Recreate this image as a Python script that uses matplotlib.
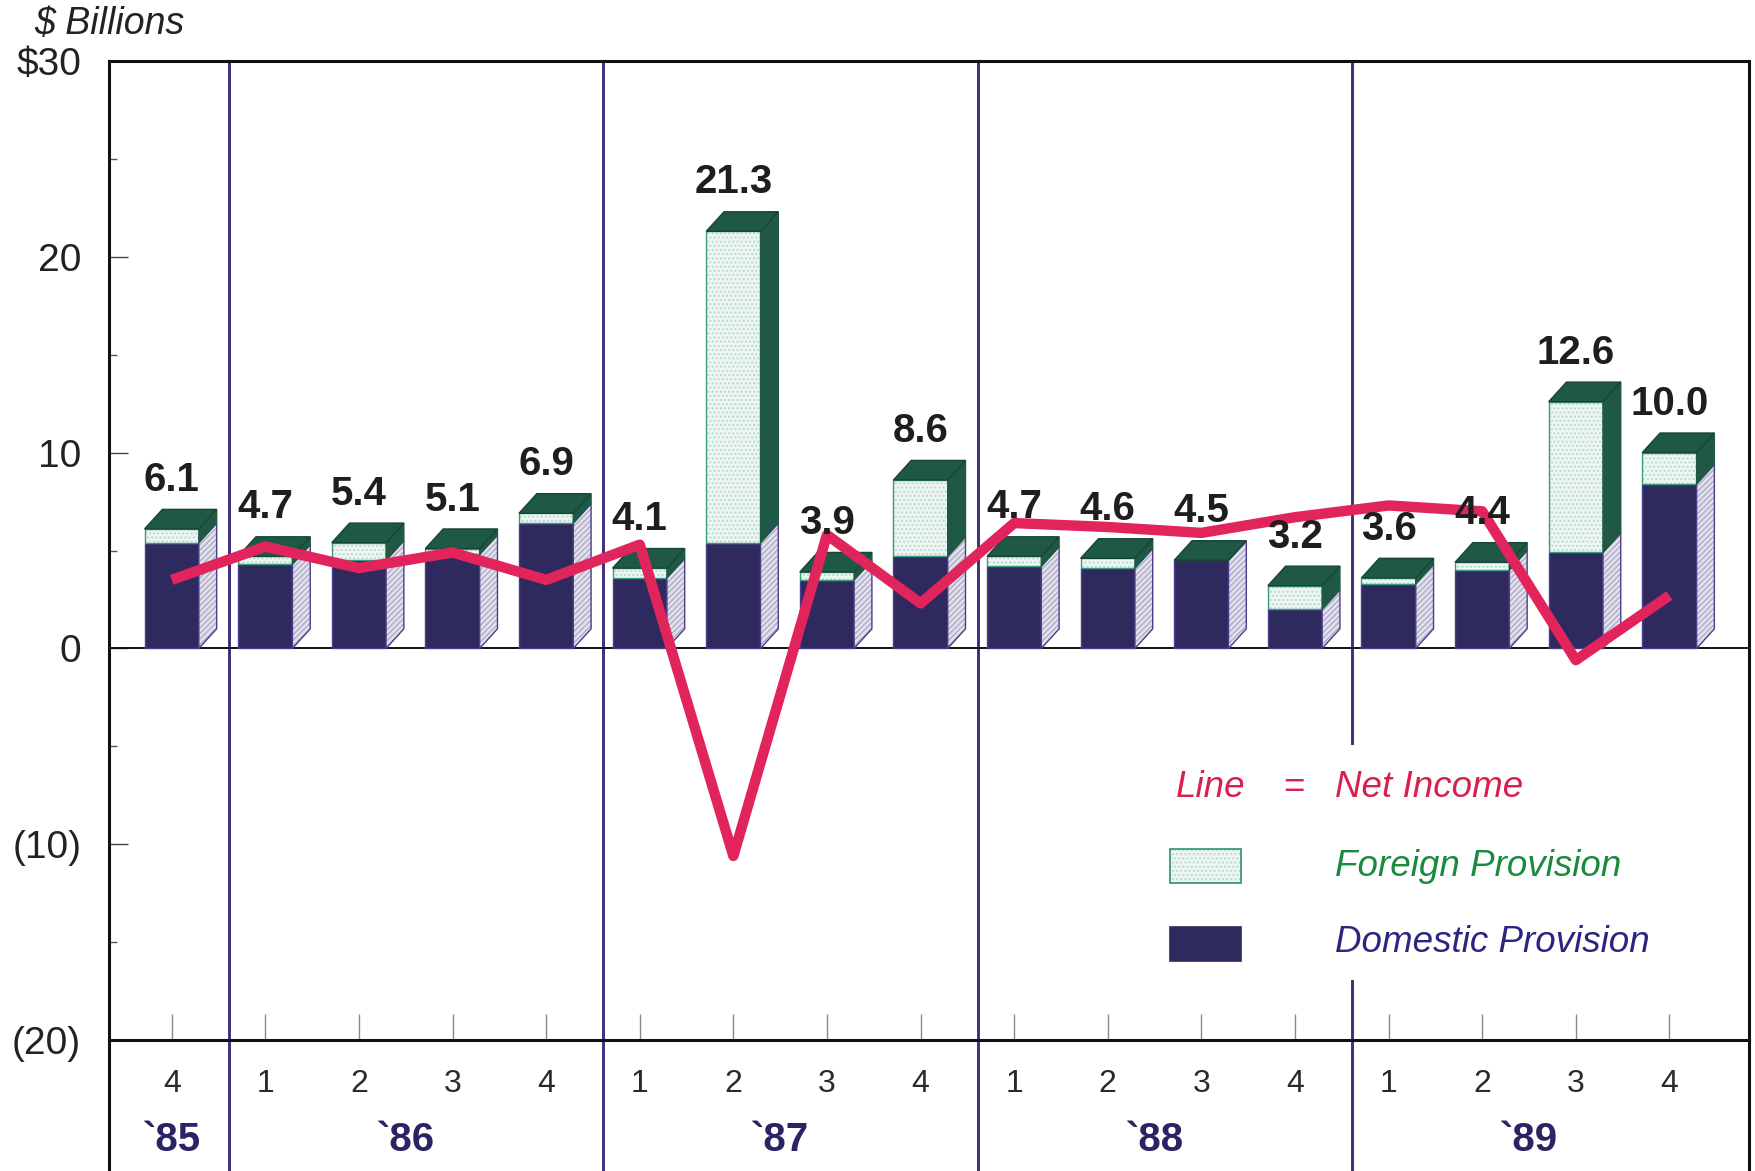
import matplotlib
matplotlib.use("Agg")
import matplotlib.pyplot as plt
from matplotlib.patches import Polygon, Rectangle

# Quarterly tax provision data, $ billions
quarters = ["4", "1", "2", "3", "4", "1", "2", "3", "4",
            "1", "2", "3", "4", "1", "2", "3", "4"]
years = ["`85", "`86", "`87", "`88", "`89"]
year_first = [0, 1, 5, 9, 13]
year_last = [0, 4, 8, 12, 16]

total_provision = [6.1, 4.7, 5.4, 5.1, 6.9, 4.1, 21.3, 3.9, 8.6,
                   4.7, 4.6, 4.5, 3.2, 3.6, 4.4, 12.6, 10.0]
domestic_provision = [5.4, 4.3, 4.5, 4.8, 6.4, 3.6, 5.4, 3.5, 4.7,
                      4.2, 4.1, 4.5, 2.0, 3.3, 4.0, 4.9, 8.4]
net_income = [3.5, 5.2, 4.1, 4.9, 3.5, 5.3, -10.6, 5.8, 2.3,
              6.4, 6.2, 5.9, 6.7, 7.3, 7.0, -0.6, 2.7]

y_ticks = [30, 20, 10, 0, -10, -20]
y_tick_labels = ["$30", "20", "10", "0", "(10)", "(20)"]
y_minor = [25, 15, 5, -5, -15]

FONT = ["Liberation Sans", "DejaVu Sans"]
plt.rcParams["font.family"] = FONT

C_DOM = "#2f2a5e"
C_DOM_EDGE = "#4b3c8c"
C_FOR = "#eef6f4"
C_FOR_DOTS = "#b9d9d2"
C_FOR_EDGE = "#3a9a7c"
C_TOP = "#1f5844"
C_SIDE = "#e2e1ec"
C_SIDE_HATCH = "#aeacc6"
C_LINE = "#e2245c"
C_SEP = "#3d2f80"
C_TEXT = "#1e1e1e"

W_PX, H_PX = 1756, 1171
fig = plt.figure(figsize=(W_PX / 100, H_PX / 100), dpi=100)

left, right = 109 / W_PX, 1749 / W_PX
top, bottom = 1 - 61 / H_PX, 1 - 1040 / H_PX
band = fig.add_axes([left, 0, right - left, bottom])
ax = fig.add_axes([left, bottom, right - left, top - bottom])
band.set_facecolor("none")

n = len(total_provision)
xlim = (-0.67, n - 1 + 0.85)
ax.set_xlim(*xlim)
ax.set_ylim(-20, 30)
band.set_xlim(*xlim)
band.set_ylim(0, 1)

# frame
for sp in ax.spines.values():
    sp.set_linewidth(2.2)
    sp.set_color("#111111")
for name, sp in band.spines.items():
    sp.set_linewidth(2.2)
    sp.set_color("#111111")
    sp.set_visible(name in ("left", "right"))

# y axis
ax.set_yticks(y_ticks)
ax.set_yticklabels(y_tick_labels)
ax.set_yticks(y_minor, minor=True)
ax.tick_params(axis="y", which="major", direction="in", length=14, width=1,
               color="#444444", pad=20, labelsize=28, labelcolor="#222222")
ax.tick_params(axis="y", which="minor", direction="in", length=6, width=1,
               color="#555555")

# x ticks along the -20 baseline
ax.set_xticks(range(n))
ax.tick_params(axis="x", which="major", direction="in", length=19, width=1,
               color="#8a8a8a", labelbottom=False)
band.set_xticks([])
band.set_yticks([])

# zero line
ax.axhline(0, color="#111111", lw=1.4, zorder=2)

# year separators
seps = [f - 0.39 for f in year_first[1:]]
for s in seps:
    ax.axvline(s, color=C_SEP, lw=2.1, zorder=1)
    band.axvline(s, color=C_SEP, lw=2.1)

# 3-D style stacked bars
w, dx, dy = 0.58, 0.19, 1.0
for i, (tot, dom) in enumerate(zip(total_provision, domestic_provision)):
    x0, x1 = i - w / 2, i + w / 2
    # front faces
    ax.add_patch(Rectangle((x0, 0), w, dom, facecolor=C_DOM,
                           edgecolor=C_DOM_EDGE, lw=1.0, zorder=3))
    if tot > dom:
        ax.add_patch(Rectangle((x0, dom), w, tot - dom, facecolor=C_FOR,
                               edgecolor=C_FOR_DOTS, lw=0, hatch="....",
                               zorder=3))
        ax.add_patch(Rectangle((x0, dom), w, tot - dom, fill=False,
                               edgecolor=C_FOR_EDGE, lw=1.0, zorder=3))
    # side face: domestic part (hatched) and foreign part (dark)
    side_dom = [(x1, 0), (x1 + dx, dy), (x1 + dx, dom + dy), (x1, dom)]
    ax.add_patch(Polygon(side_dom, closed=True, facecolor=C_SIDE,
                         edgecolor=C_SIDE_HATCH, lw=0, hatch="//////",
                         zorder=3))
    ax.add_patch(Polygon(side_dom, closed=True, fill=False,
                         edgecolor=C_DOM_EDGE, lw=1.0, zorder=3))
    if tot > dom:
        side_for = [(x1, dom), (x1 + dx, dom + dy), (x1 + dx, tot + dy), (x1, tot)]
        ax.add_patch(Polygon(side_for, closed=True, facecolor=C_TOP,
                             edgecolor=C_TOP, lw=1.0, zorder=3))
    # top face
    top_face = [(x0, tot), (x1, tot), (x1 + dx, tot + dy), (x0 + dx, tot + dy)]
    ax.add_patch(Polygon(top_face, closed=True, facecolor=C_TOP,
                         edgecolor="#174533", lw=1.0, zorder=3))
    # value label
    ax.text(i, tot + dy + 1.5, f"{tot:.1f}", ha="center", va="center",
            fontsize=29, fontweight="bold", color=C_TEXT, zorder=6)

# net income line
ax.plot(range(n), net_income, color=C_LINE, lw=7.5, solid_joinstyle="round",
        solid_capstyle="butt", zorder=5)

# legend block
ax.add_patch(Rectangle((0.644, 0.061), 0.30, 0.24, transform=ax.transAxes,
                       facecolor="white", edgecolor="none", zorder=4))
LEG = 26.5
ax.text(0.6506, 0.2584, "Line", transform=ax.transAxes, color="#d8204e",
        fontsize=LEG, style="italic", ha="left", va="center", zorder=6)
ax.text(0.7223, 0.2584, "=", transform=ax.transAxes, color="#d8204e",
        fontsize=LEG, ha="center", va="center", zorder=6)
ax.text(0.7476, 0.2584, "Net Income", transform=ax.transAxes, color="#d8204e",
        fontsize=LEG, style="italic", ha="left", va="center", zorder=6)
ax.add_patch(Rectangle((0.647, 0.160), 0.043, 0.035, transform=ax.transAxes,
                       facecolor=C_FOR, edgecolor=C_FOR_DOTS, lw=0,
                       hatch="....", zorder=6))
ax.add_patch(Rectangle((0.647, 0.160), 0.043, 0.035, transform=ax.transAxes,
                       fill=False, edgecolor=C_FOR_EDGE, lw=1.3, zorder=6))
ax.text(0.7476, 0.1777, "Foreign Provision", transform=ax.transAxes,
        color="#1a8a3c", fontsize=LEG, style="italic", ha="left",
        va="center", zorder=6)
ax.add_patch(Rectangle((0.647, 0.0807), 0.043, 0.035, transform=ax.transAxes,
                       facecolor=C_DOM, edgecolor=C_DOM, lw=1.2, zorder=6))
ax.text(0.7476, 0.1001, "Domestic Provision", transform=ax.transAxes,
        color="#2b2580", fontsize=LEG, style="italic", ha="left",
        va="center", zorder=6)

# quarter and year labels below the plot
for i, q in enumerate(quarters):
    band.text(i, 0.664, q, ha="center", va="center", fontsize=23,
              color="#2a2a2a")
for yr, a, b in zip(years, year_first, year_last):
    band.text((a + b) / 2, 0.236, yr, ha="center", va="center",
              fontsize=29, fontweight="bold", color="#2a2464")

fig.text(34 / W_PX, 1 - 24 / H_PX, "$ Billions", ha="left", va="center",
         fontsize=27, style="italic", color="#222222")

fig.savefig("out.png", dpi=100, facecolor="white")
